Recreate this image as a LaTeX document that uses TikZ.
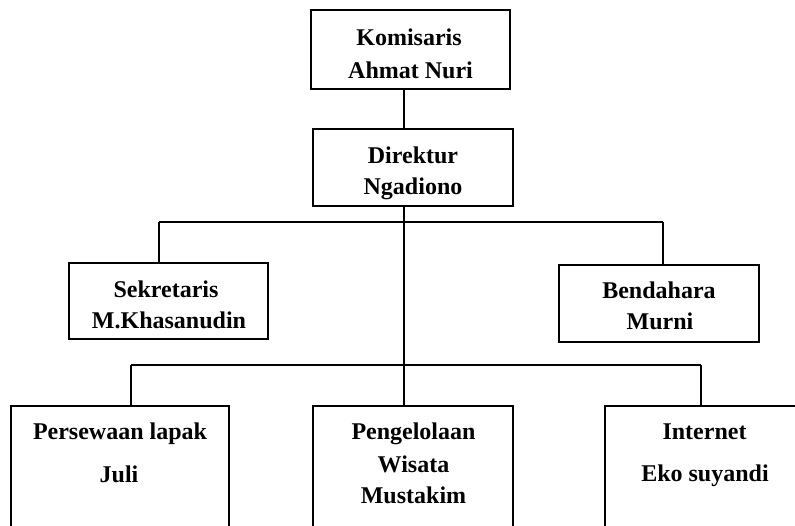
\documentclass[tikz,border=0pt]{standalone}
\usepackage{fontspec}
\setmainfont{Liberation Serif}
\begin{document}
\begin{tikzpicture}[x=1pt,y=-1pt,
  box/.style={draw, line width=1.5pt, inner sep=0pt, shape=rectangle},
  conn/.style={line width=1.5pt},
  txt/.style={font=\fontsize{24}{28}\selectfont\bfseries, anchor=base, inner sep=0pt}]
\useasboundingbox (0,0) rectangle (795,525);
\fill[white] (0,0) rectangle (795,525);
\clip (0,0) rectangle (795,525);

% boxes
\node[box, minimum width=199pt, minimum height=79pt] (kom) at (410.5,49.5) {};
\node[box, minimum width=200pt, minimum height=77pt] (dir) at (413,167.5) {};
\node[box, minimum width=199pt, minimum height=76pt] (sek) at (168.5,301) {};
\node[box, minimum width=200pt, minimum height=77pt] (ben) at (659,303.5) {};
\node[box, minimum width=218pt, minimum height=154pt] (per) at (120,483) {};
\node[box, minimum width=200pt, minimum height=154pt] (pen) at (413,483) {};
\node[box, minimum width=215pt, minimum height=154pt] (int) at (712.5,483) {};

% texts
\node[txt] (kom1) at (409,45) {Komisaris};
\node[txt] (kom2) at (410.5,78) {Ahmat Nuri};
\node[txt] (dir1) at (413,163) {Direktur};
\node[txt] (dir2) at (413,194) {Ngadiono};
\node[txt] (sek1) at (166,297) {Sekretaris};
\node[txt] (sek2) at (169,328) {M.Khasanudin};
\node[txt] (ben1) at (659,298) {Bendahara};
\node[txt] (ben2) at (660,329) {Murni};
\node[txt] (per1) at (120,439) {Persewaan lapak};
\node[txt] (per2) at (119,482) {Juli};
\node[txt] (pen1) at (413.5,439) {Pengelolaan};
\node[txt] (pen2) at (413.5,472) {Wisata};
\node[txt] (pen3) at (413.5,503) {Mustakim};
\node[txt] (int1) at (704.5,439) {Internet};
\node[txt] (int2) at (705,481) {Eko suyandi};

% connectors
\coordinate (ub) at (404,222);
\coordinate (ubl) at (159,222);
\coordinate (ubr) at (663,222);
\coordinate (lbl) at (131,365);
\coordinate (lbr) at (701,365);
\draw[conn] (kom.south -| ub) -- (dir.north -| ub);
\draw[conn] (dir.south -| ub) -- (pen.north -| ub);
\draw[conn] (ubl) -- (ubr);
\draw[conn] (ubl) -- (sek.north -| ubl);
\draw[conn] (ubr) -- (ben.north -| ubr);
\draw[conn] (lbl) -- (lbr);
\draw[conn] (lbl) -- (per.north -| lbl);
\draw[conn] (lbr) -- (int.north -| lbr);
\end{tikzpicture}
\end{document}
